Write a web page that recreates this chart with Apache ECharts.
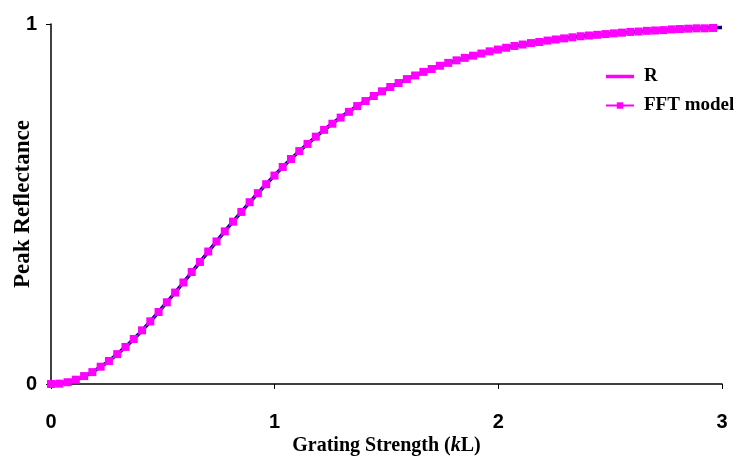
<!DOCTYPE html>
<html>
<head>
<meta charset="utf-8">
<script src="https://cdn.jsdelivr.net/npm/echarts@6/dist/echarts.min.js"></script>
<style>
  html, body { margin: 0; padding: 0; background: #fff; }
  #chart { width: 734px; height: 459px; }
</style>
</head>
<body>
<div id="chart"></div>
<script>
// R curve, read at 0.1 steps
const rX = [0, 0.1, 0.2, 0.3, 0.4, 0.5, 0.6, 0.7, 0.8, 0.9, 1.0, 1.1, 1.2, 1.3, 1.4, 1.5,
  1.6, 1.7, 1.8, 1.9, 2.0, 2.1, 2.2, 2.3, 2.4, 2.5, 2.6, 2.7, 2.8, 2.9, 3.0]
const rY = [0, 0.010, 0.039, 0.085, 0.144, 0.214, 0.288, 0.365, 0.441, 0.513, 0.580, 0.641,
  0.695, 0.743, 0.784, 0.819, 0.849, 0.875, 0.896, 0.914, 0.929, 0.942, 0.952, 0.961,
  0.968, 0.973, 0.978, 0.982, 0.985, 0.988, 0.990]

// FFT model markers (81 points, spacing ~0.037)
const fftX = [0, 0.037, 0.074, 0.111, 0.148, 0.185, 0.222, 0.259, 0.296, 0.333, 0.370,
  0.407, 0.444, 0.481, 0.518, 0.555, 0.592, 0.629, 0.666, 0.703, 0.740, 0.777, 0.814,
  0.851, 0.888, 0.925, 0.962, 0.999, 1.036, 1.073, 1.110, 1.147, 1.184, 1.221, 1.258,
  1.295, 1.332, 1.369, 1.406, 1.443, 1.480, 1.517, 1.554, 1.591, 1.628, 1.665, 1.702,
  1.739, 1.776, 1.813, 1.850, 1.887, 1.924, 1.961, 1.998, 2.035, 2.072, 2.109, 2.146,
  2.183, 2.220, 2.257, 2.294, 2.331, 2.368, 2.405, 2.442, 2.479, 2.516, 2.553, 2.590,
  2.627, 2.664, 2.701, 2.738, 2.775, 2.812, 2.849, 2.886, 2.923, 2.960]
const fftY = [0, 0.001, 0.005, 0.012, 0.022, 0.033, 0.048, 0.064, 0.083, 0.103, 0.125,
  0.149, 0.174, 0.200, 0.227, 0.254, 0.282, 0.311, 0.339, 0.368, 0.396, 0.424, 0.451,
  0.478, 0.505, 0.530, 0.555, 0.579, 0.603, 0.625, 0.647, 0.667, 0.687, 0.706, 0.723,
  0.740, 0.756, 0.772, 0.786, 0.800, 0.813, 0.825, 0.836, 0.847, 0.857, 0.867, 0.875,
  0.884, 0.892, 0.899, 0.906, 0.912, 0.918, 0.924, 0.929, 0.934, 0.939, 0.943, 0.947,
  0.950, 0.954, 0.957, 0.960, 0.963, 0.966, 0.968, 0.970, 0.972, 0.974, 0.976, 0.978,
  0.979, 0.981, 0.982, 0.983, 0.985, 0.986, 0.987, 0.988, 0.988, 0.989]

const xTicks = [0, 1, 2, 3]
const yTicks = [0, 1]

const pink = '#ff00ff'
const navy = '#000080'
const labelFont = "'Liberation Sans', Arial, sans-serif"
const titleFont = "'Liberation Serif', 'Times New Roman', serif"

const chart = echarts.init(document.getElementById('chart'))

const option = {
  animation: false,
  backgroundColor: '#fff',
  grid: { left: 51, right: 12, top: 24, bottom: 75, containLabel: false, outerBoundsMode: 'none' },
  legend: {
    orient: 'vertical',
    left: 600,
    top: 62,
    itemWidth: 28,
    itemHeight: 8,
    itemGap: 10,
    textStyle: { fontFamily: titleFont, fontWeight: 'bold', fontSize: 19, color: '#000', padding: [0, 0, 0, 5] },
    data: [
      { name: 'R', icon: 'path://M0,0 H28 V3.5 H0 Z', itemStyle: { color: pink } },
      { name: 'FFT model', itemStyle: { color: pink }, lineStyle: { color: pink, width: 2 } }
    ]
  },
  xAxis: {
    type: 'value',
    min: 0,
    max: 3,
    interval: 1,
    name: 'Grating Strength ({i|k}L)',
    nameLocation: 'middle',
    nameGap: 52,
    nameMoveOverlap: false,
    nameTextStyle: {
      fontFamily: titleFont, fontWeight: 'bold', fontSize: 20, color: '#000',
      rich: { i: { fontFamily: titleFont, fontWeight: 'bold', fontStyle: 'italic', fontSize: 20, color: '#000' } }
    },
    splitLine: { show: false },
    axisLine: { lineStyle: { color: '#000', width: 1.5 } },
    axisTick: { inside: false, length: 5, lineStyle: { color: '#000' } },
    axisLabel: {
      margin: 28,
      fontFamily: labelFont, fontWeight: 'bold', fontSize: 20, color: '#000',
      formatter: (v) => xTicks.includes(v) ? String(v) : ''
    }
  },
  yAxis: {
    type: 'value',
    min: 0,
    max: 1,
    interval: 1,
    name: 'Peak Reflectance',
    nameLocation: 'middle',
    nameGap: 16,
    nameRotate: 90,
    nameMoveOverlap: false,
    nameTextStyle: { fontFamily: titleFont, fontWeight: 'bold', fontSize: 23, color: '#000' },
    splitLine: { show: false },
    axisLine: { show: true, lineStyle: { color: '#000', width: 1.5 } },
    axisTick: { show: true, inside: false, length: 5, lineStyle: { color: '#000' } },
    axisLabel: {
      margin: 14,
      fontFamily: labelFont, fontWeight: 'bold', fontSize: 20, color: '#000',
      formatter: (v) => yTicks.includes(v) ? String(v) : ''
    }
  },
  series: [
    {
      name: 'R',
      type: 'line',
      smooth: true,
      symbol: 'none',
      data: rX.map((x, i) => [x, rY[i]]),
      lineStyle: { color: navy, width: 3.5 },
      itemStyle: { color: pink },
      z: 2
    },
    {
      name: 'FFT model',
      type: 'line',
      symbol: 'rect',
      symbolSize: 8,
      data: fftX.map((x, i) => [x, fftY[i]]),
      lineStyle: { color: pink, width: 1 },
      itemStyle: { color: pink, borderWidth: 0 },
      z: 3
    }
  ]
}

chart.setOption(option)
</script>
</body>
</html>
